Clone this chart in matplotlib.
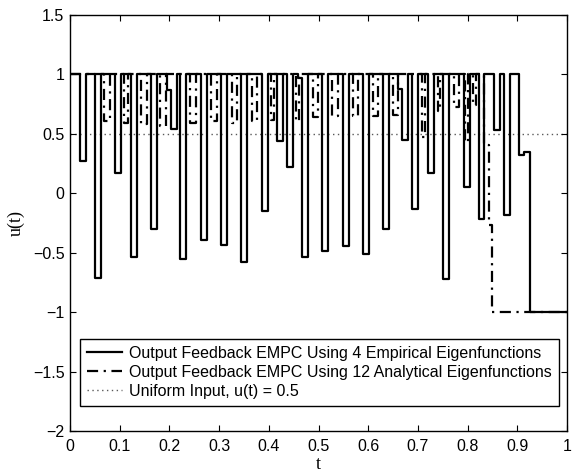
import numpy as np
import matplotlib.pyplot as plt

# pulses of the 4-empirical-eigenfunction controller: start, end, level (u = 1 otherwise)
emp_start = [0.020, 0.050, 0.091, 0.122, 0.163, 0.195, 0.204, 0.222, 0.263, 0.304,
             0.345, 0.386, 0.416, 0.437, 0.459, 0.467, 0.507, 0.549, 0.589, 0.629,
             0.659, 0.668, 0.689, 0.720, 0.750, 0.792, 0.822, 0.853, 0.873, 0.903,
             0.913, 0.925]
emp_end = [0.032, 0.062, 0.103, 0.134, 0.175, 0.204, 0.215, 0.234, 0.275, 0.316,
           0.357, 0.398, 0.428, 0.449, 0.467, 0.479, 0.519, 0.561, 0.601, 0.641,
           0.668, 0.680, 0.701, 0.732, 0.762, 0.804, 0.834, 0.865, 0.885, 0.913,
           0.925, 1.000]
emp_level = [0.27, -0.71, 0.17, -0.54, -0.30, 0.87, 0.54, -0.555, -0.39, -0.435,
             -0.58, -0.15, 0.44, 0.22, 0.97, -0.54, -0.485, -0.44, -0.51, -0.30,
             0.875, 0.45, -0.135, 0.17, -0.72, 0.05, -0.22, 0.53, -0.18, 0.32,
             0.35, -1.0]

# pulses of the 12-analytical-eigenfunction controller
ana_start = [0.069, 0.109, 0.143, 0.182, 0.241, 0.283, 0.325, 0.366, 0.404, 0.455,
             0.488, 0.527, 0.569, 0.609, 0.649, 0.708, 0.740, 0.773, 0.795, 0.811,
             0.834, 0.843, 0.850]
ana_end = [0.081, 0.117, 0.154, 0.193, 0.253, 0.295, 0.337, 0.377, 0.410, 0.461,
           0.498, 0.539, 0.580, 0.620, 0.660, 0.714, 0.745, 0.782, 0.801, 0.816,
           0.843, 0.850, 1.000]
ana_level = [0.61, 0.59, 0.58, 0.57, 0.59, 0.61, 0.59, 0.61, 0.62, 0.61,
             0.64, 0.65, 0.65, 0.65, 0.66, 0.47, 0.69, 0.73, 0.43, 0.74,
             0.41, -0.27, -1.0]

u_uniform = 0.5
x_ticks = [0, 0.1, 0.2, 0.3, 0.4, 0.5, 0.6, 0.7, 0.8, 0.9, 1]
y_ticks = [-2, -1.5, -1, -0.5, 0, 0.5, 1, 1.5]

labels = ['Output Feedback EMPC Using 4 Empirical Eigenfunctions',
          'Output Feedback EMPC Using 12 Analytical Eigenfunctions',
          'Uniform Input, u(t) = 0.5']


def pulse_train(starts, ends, levels, base=1.0):
    t = [0.0]
    u = [base]
    for i in range(len(starts)):
        t.append(starts[i])
        u.append(levels[i])
        if i + 1 < len(starts) and abs(starts[i + 1] - ends[i]) < 1e-9:
            continue
        t.append(ends[i])
        u.append(base if ends[i] < 1.0 else levels[i])
    if t[-1] < 1.0:
        t.append(1.0)
        u.append(u[-1])
    return np.array(t), np.array(u)


plt.rcParams['font.family'] = ['Liberation Sans', 'DejaVu Sans']

fig = plt.figure(figsize=(5.77, 4.72), dpi=100)
ax = fig.add_axes([70 / 577, 1 - 431 / 472, 497 / 577, 416 / 472])

t1, u1 = pulse_train(emp_start, emp_end, emp_level)
t2, u2 = pulse_train(ana_start, ana_end, ana_level)

ax.plot(t1, u1, drawstyle='steps-post', color='black', lw=1.6, zorder=3,
        label=labels[0])
ax.plot(t2, u2, drawstyle='steps-post', color='black', lw=1.6, zorder=2,
        linestyle=(0, (5, 2.5, 1, 2.5)), label=labels[1])
ax.plot([0, 1], [u_uniform, u_uniform], color='0.35', lw=1.0, linestyle=(0, (1, 2.5)),
        zorder=1, label=labels[2])

ax.set_xlim(0, 1)
ax.set_ylim(-2, 1.5)
ax.set_xticks(x_ticks)
ax.set_xticklabels(['%g' % v for v in x_ticks])
ax.set_yticks(y_ticks)
ax.set_yticklabels(['%g' % v if v >= 0 else '\u2212%g' % -v for v in y_ticks])
ax.tick_params(direction='in', length=4, width=0.8, labelsize=11.5, top=True, right=True)
ax.tick_params(axis='x', pad=6)
ax.tick_params(axis='y', pad=4)
for s in ax.spines.values():
    s.set_linewidth(1.0)

ax.set_xlabel('t', family='Liberation Serif', fontsize=13, labelpad=1)
ax.set_ylabel('u(t)', family='Liberation Serif', fontsize=13, labelpad=6)

leg = ax.legend(loc='lower left', bbox_to_anchor=(0.02, 0.06), borderaxespad=0,
                fontsize=11.5, fancybox=False, edgecolor='black', framealpha=1,
                handlelength=2.2, handletextpad=0.4, labelspacing=0.25,
                borderpad=0.45)
leg.get_frame().set_linewidth(1.0)

fig.savefig('out.png', dpi=100)
